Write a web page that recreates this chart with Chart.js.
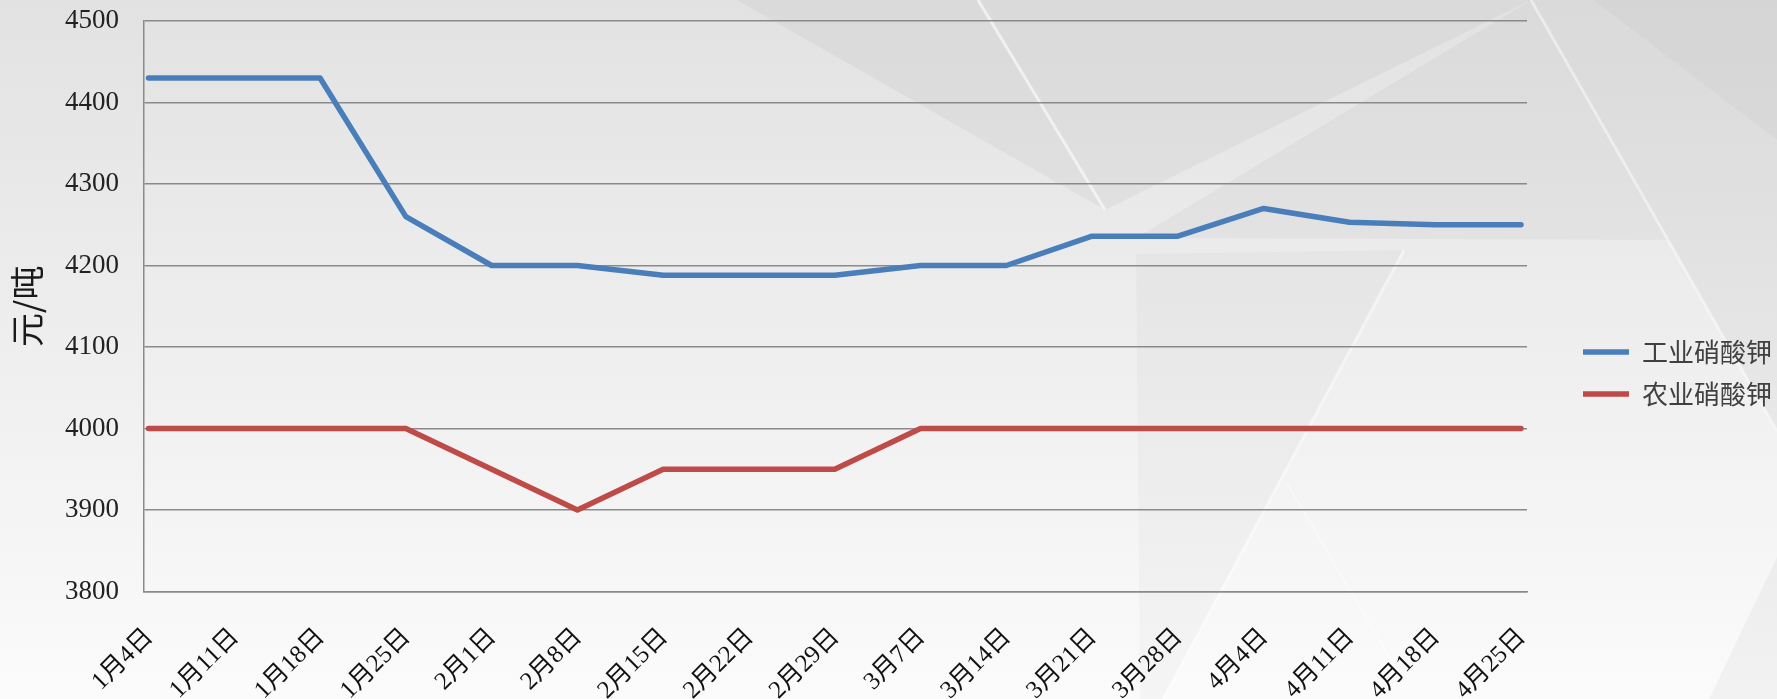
<!DOCTYPE html>
<html>
<head>
<meta charset="utf-8">
<script src="https://cdn.jsdelivr.net/npm/chart.js@4.4.1/dist/chart.umd.min.js"></script>
<style>
html,body{margin:0;padding:0;background:#f2f2f2;}
#wrap{width:1777px;height:699px;position:relative;}
canvas{display:block;}
</style>
</head>
<body>
<div id="wrap"><canvas id="c" width="1777" height="699"></canvas></div>
<script>
// ---- data ----
const categories = ['1月4日','1月11日','1月18日','1月25日','2月1日','2月8日','2月15日','2月22日','2月29日','3月7日','3月14日','3月21日','3月28日','4月4日','4月11日','4月18日','4月25日'];
const industrialPrice = [4430,4430,4430,4260,4200,4200,4188,4188,4188,4200,4200,4236,4236,4270,4253,4250,4250];
const agriculturalPrice = [4000,4000,4000,4000,3950,3900,3950,3950,3950,4000,4000,4000,4000,4000,4000,4000,4000];
const yTickValues = [3800,3900,4000,4100,4200,4300,4400,4500];
const seriesNames = ['工业硝酸钾','农业硝酸钾'];
const yAxisTitle = '元/吨';

// ---- layout constants ----
const W = 1777, H = 699;
const PLOT_TOP = 21, PLOT_BOTTOM = 591.5, PLOT_LEFT = 144, PLOT_RIGHT = 1527;
const X_MIN = -0.0524, X_MAX = 16.07;   // small inset of first/last category inside the plot
const LEGEND_ITEM_X = 1583, LEGEND_PAD = 16, LEGEND_TOP = 23.5;
const GRID = '#8a8a8a';

const toPoints = arr => arr.map((v, i) => ({ x: i, y: v }));

const backgroundPlugin = {
  id: 'bg',
  beforeDraw(chart) {
    const ctx = chart.ctx;
    ctx.save();
    const g = ctx.createLinearGradient(0, 0, 0, H);
    g.addColorStop(0, '#e2e2e2');
    g.addColorStop(1, '#fbfbfb');
    ctx.fillStyle = g;
    ctx.fillRect(0, 0, W, H);
    const poly = (pts, fill) => {
      ctx.beginPath();
      ctx.moveTo(pts[0][0], pts[0][1]);
      for (let i = 1; i < pts.length; i++) ctx.lineTo(pts[i][0], pts[i][1]);
      ctx.closePath();
      ctx.fillStyle = fill;
      ctx.fill();
    };
    const line = (pts, w, col) => {
      ctx.beginPath();
      ctx.moveTo(pts[0][0], pts[0][1]);
      for (let i = 1; i < pts.length; i++) ctx.lineTo(pts[i][0], pts[i][1]);
      ctx.lineWidth = w; ctx.strokeStyle = col; ctx.stroke();
    };
    poly([[737,0],[1105,210],[1531,0]], 'rgba(0,0,0,0.035)');
    poly([[1136,238],[1531,0],[1668,240]], 'rgba(0,0,0,0.03)');
    poly([[1531,0],[1777,0],[1777,431]], 'rgba(0,0,0,0.035)');
    poly([[1593,0],[1777,0],[1777,140]], 'rgba(0,0,0,0.02)');
    poly([[1136,254],[1404,250],[1163,699],[1140,699]], 'rgba(0,0,0,0.025)');
    poly([[1777,557],[1777,699],[1709,699]], 'rgba(0,0,0,0.035)');
    line([[978,0],[1105,210]], 3, 'rgba(255,255,255,0.6)');
    line([[1531,0],[1668,240],[1777,431]], 3, 'rgba(255,255,255,0.45)');
    line([[1404,250],[1163,699]], 3, 'rgba(255,255,255,0.45)');
    line([[1287,483],[1414,699]], 2, 'rgba(255,255,255,0.35)');
    ctx.restore();
  }
};

const legendPlacePlugin = {
  id: 'legendPlace',
  beforeInit(chart) {
    const lg = chart.legend;
    if (!lg) return;
    const fit = lg.fit;
    lg.fit = function() { fit.call(this); this.width = W - PLOT_RIGHT; };
  },
  afterLayout(chart) {
    const lg = chart.legend;
    if (!lg) return;
    lg.left = LEGEND_ITEM_X - LEGEND_PAD;
    lg.right = W;
    lg.top = LEGEND_TOP;
    lg.bottom = H + LEGEND_TOP;
  }
};

new Chart(document.getElementById('c'), {
  type: 'line',
  data: {
    datasets: [
      { label: seriesNames[0], data: toPoints(industrialPrice), borderColor: '#4a7ebb', backgroundColor: '#4a7ebb',
        borderWidth: 5.5, pointRadius: 0, pointHoverRadius: 0, tension: 0, fill: false,
        borderCapStyle: 'round', borderJoinStyle: 'round' },
      { label: seriesNames[1], data: toPoints(agriculturalPrice), borderColor: '#be4b48', backgroundColor: '#be4b48',
        borderWidth: 5.5, pointRadius: 0, pointHoverRadius: 0, tension: 0, fill: false,
        borderCapStyle: 'round', borderJoinStyle: 'round' }
    ]
  },
  options: {
    responsive: false,
    animation: false,
    devicePixelRatio: 1,
    layout: { padding: 0 },
    plugins: {
      tooltip: { enabled: false },
      legend: {
        position: 'right',
        align: 'center',
        labels: {
          usePointStyle: true,
          pointStyle: 'line',
          pointStyleWidth: 46,
          padding: LEGEND_PAD,
          color: '#404040',
          font: { family: "'Noto Sans CJK SC', 'Noto Sans', sans-serif", size: 26 }
        }
      }
    },
    scales: {
      x: {
        type: 'linear',
        min: X_MIN,
        max: X_MAX,
        offset: false,
        afterBuildTicks(scale) { scale.ticks = categories.map((c, i) => ({ value: i })); },
        grid: { display: false },
        border: { display: true, color: GRID, width: 1.5 },
        afterFit(scale) { scale.height = H - PLOT_BOTTOM; },
        ticks: {
          autoSkip: false,
          maxRotation: 45,
          minRotation: 45,
          padding: 23,
          labelOffset: 1,
          color: '#111',
          font: { family: "'Liberation Serif', 'Noto Sans CJK SC', serif", size: 25 },
          callback: v => categories[Math.round(v)]
        }
      },
      y: {
        min: 3800,
        max: 4500,
        afterBuildTicks(scale) { scale.ticks = yTickValues.map(v => ({ value: v })); },
        afterFit(scale) {
          scale.width = PLOT_LEFT;
          scale.paddingTop = PLOT_TOP;
          scale.paddingBottom = 0;
        },
        grid: { color: GRID, lineWidth: 1.5, drawTicks: false },
        border: { display: true, color: GRID, width: 1.5 },
        ticks: {
          padding: 25,
          color: '#222',
          font: { family: "'Liberation Serif', serif", size: 27 },
          callback: v => String(v)
        },
        title: {
          display: true,
          text: yAxisTitle,
          color: '#1a1a1a',
          padding: { top: 7, bottom: 10 },
          font: { family: "'Noto Sans CJK SC', sans-serif", size: 34 }
        }
      }
    }
  },
  plugins: [backgroundPlugin, legendPlacePlugin]
});
</script>
</body>
</html>
